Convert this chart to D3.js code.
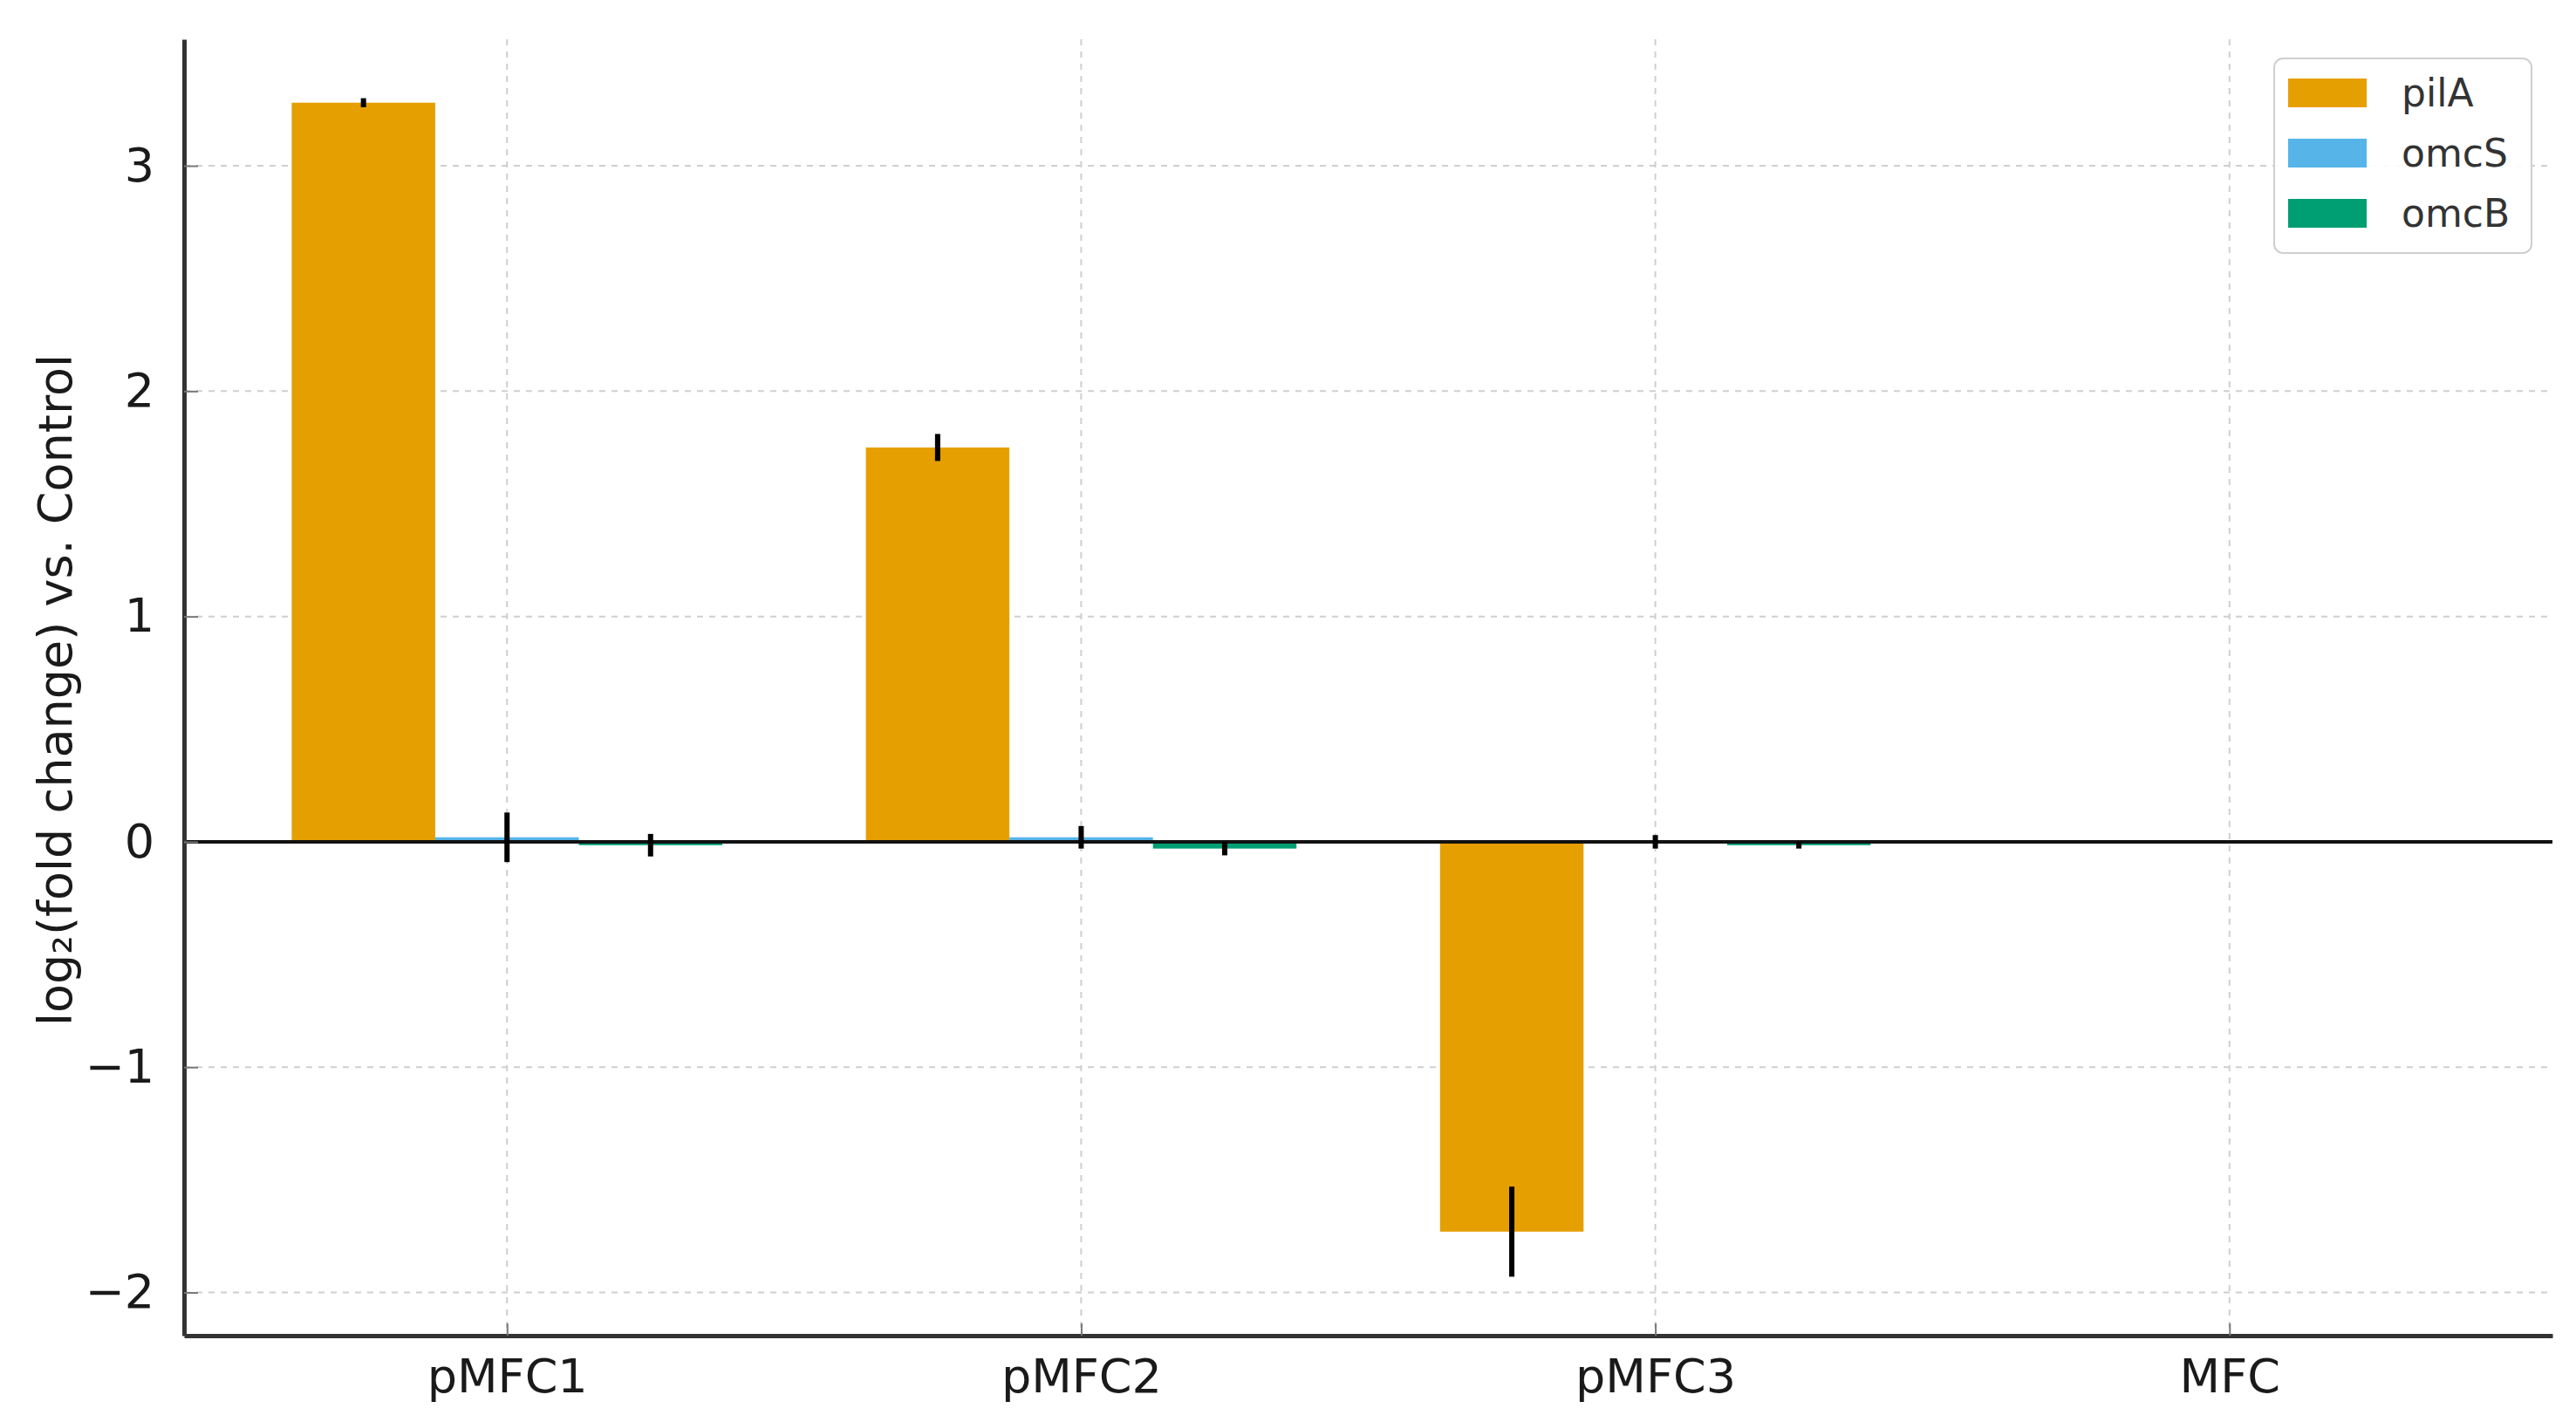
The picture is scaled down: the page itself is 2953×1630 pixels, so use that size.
<!DOCTYPE html>
<html>
<head>
<meta charset="utf-8">
<script src="https://cdn.jsdelivr.net/npm/d3@7"></script>
<style>
  body { margin: 0; background: #fff; }
  text { font-family: "DejaVu Sans", sans-serif; }
</style>
</head>
<body>
<div id="chart"></div>
<script>
// categories and genes
const conditions = ["pMFC1", "pMFC2", "pMFC3", "MFC"];
const genes = ["pilA", "omcS", "omcB"];
const geneColors = ["#E69F00", "#56B4E9", "#009E73"];

// log2 fold change per gene (one value per condition)
const pilA = [3.28, 1.75, -1.73, 0];
const omcS = [0.02, 0.02, 0.0, 0];
const omcB = [-0.015, -0.03, -0.015, 0];
// error (+/-) per gene
const pilAErr = [0.02, 0.06, 0.2, 0];
const omcSErr = [0.11, 0.05, 0.03, 0];
const omcBErr = [0.05, 0.03, 0.015, 0];

const yTicks = [-2, -1, 0, 1, 2, 3];

const values = [pilA, omcS, omcB];
const errors = [pilAErr, omcSErr, omcBErr];

const width = 2953, height = 1630;
const margin = {left: 211, right: 27, top: 45, bottom: 99};
const barW = 0.25;

let svg = d3.select("#chart").append("svg")
    .attr("width", width)
    .attr("height", height);

// x: numeric positions like matplotlib (category index), offsets -0.25 / 0 / +0.25
const xMin = -1.5 * barW, xMax = conditions.length - 1 + 1.5 * barW;
const xPad = (xMax - xMin) * 0.05;
const x = d3.scaleLinear()
    .domain([xMin - xPad, xMax + xPad])
    .range([margin.left, width - margin.right]);

// y domain from data + error, padded 5%
let lo = 0, hi = 0;
values.forEach((s, i) => s.forEach((v, j) => {
    lo = Math.min(lo, v - errors[i][j]);
    hi = Math.max(hi, v + errors[i][j]);
}));
const yPad = (hi - lo) * 0.05;
const y = d3.scaleLinear()
    .domain([lo - yPad, hi + yPad])
    .range([height - margin.bottom, margin.top]);

// grid
const grid = svg.append("g");
grid.selectAll("line.hg").data(yTicks).enter().append("line")
    .attr("x1", margin.left).attr("x2", width - margin.right)
    .attr("y1", d => y(d)).attr("y2", d => y(d))
    .attr("stroke", "#cfcfcf").attr("stroke-width", 2)
    .attr("stroke-dasharray", "7,7");
grid.selectAll("line.vg").data(conditions).enter().append("line")
    .attr("x1", (d, i) => x(i)).attr("x2", (d, i) => x(i))
    .attr("y1", margin.top).attr("y2", height - margin.bottom)
    .attr("stroke", "#cfcfcf").attr("stroke-width", 2)
    .attr("stroke-dasharray", "7,7");

// bars
genes.forEach((g, gi) => {
    const off = (gi - 1) * barW;
    svg.append("g").selectAll("rect").data(values[gi]).enter().append("rect")
        .attr("x", (d, i) => x(i + off - barW / 2))
        .attr("width", x(barW) - x(0))
        .attr("y", d => y(Math.max(0, d)))
        .attr("height", d => Math.abs(y(d) - y(0)))
        .attr("fill", geneColors[gi]);
});

// zero line
svg.append("line")
    .attr("x1", margin.left).attr("x2", width - margin.right)
    .attr("y1", y(0)).attr("y2", y(0))
    .attr("stroke", "#111").attr("stroke-width", 4);

// error bars
genes.forEach((g, gi) => {
    const off = (gi - 1) * barW;
    svg.append("g").selectAll("line").data(values[gi]).enter()
        .filter((d, i) => errors[gi][i] > 0)
        .append("line")
        .attr("x1", (d, i) => x(i + off)).attr("x2", (d, i) => x(i + off))
        .attr("y1", (d, i) => y(d - errors[gi][i]))
        .attr("y2", (d, i) => y(d + errors[gi][i]))
        .attr("stroke", "#000").attr("stroke-width", 6);
});

// axes
const xAxis = d3.axisBottom(x)
    .tickValues(d3.range(conditions.length))
    .tickFormat(i => conditions[i])
    .tickSizeInner(-14).tickSizeOuter(0).tickPadding(27);
const gx = svg.append("g")
    .attr("transform", `translate(0,${height - margin.bottom})`)
    .call(xAxis);
gx.select(".domain").attr("stroke", "#333").attr("stroke-width", 5);
gx.selectAll(".tick line").attr("stroke", "#777").attr("stroke-width", 2);
gx.selectAll(".tick text").attr("font-size", 54).attr("fill", "#1a1a1a")
    .attr("font-family", "DejaVu Sans");

const yAxis = d3.axisLeft(y)
    .tickValues(yTicks)
    .tickFormat(d => d < 0 ? "\u2212" + Math.abs(d) : d)
    .tickSizeInner(-16).tickSizeOuter(0).tickPadding(34);
const gy = svg.append("g")
    .attr("transform", `translate(${margin.left},0)`)
    .call(yAxis);
gy.select(".domain").attr("stroke", "#333").attr("stroke-width", 5);
gy.selectAll(".tick line").attr("stroke", "#777").attr("stroke-width", 2);
gy.selectAll(".tick text").attr("font-size", 54).attr("fill", "#1a1a1a")
    .attr("font-family", "DejaVu Sans");

// y label
svg.append("text")
    .attr("transform", `translate(82,${(margin.top + height - margin.bottom) / 2 + 3}) rotate(-90)`)
    .attr("text-anchor", "middle")
    .attr("font-size", 54).attr("fill", "#1a1a1a")
    .text("log\u2082(fold change) vs. Control");

// legend
const leg = svg.append("g").attr("transform", "translate(2607,67)");
leg.append("rect")
    .attr("width", 295).attr("height", 223)
    .attr("rx", 10).attr("ry", 10)
    .attr("fill", "#fff").attr("fill-opacity", 0.9)
    .attr("stroke", "#cfcfcf").attr("stroke-width", 2);
genes.forEach((g, gi) => {
    leg.append("rect")
        .attr("x", 16).attr("y", 23 + gi * 69)
        .attr("width", 90).attr("height", 33)
        .attr("fill", geneColors[gi]);
    leg.append("text")
        .attr("x", 146).attr("y", 55 + gi * 69)
        .attr("font-size", 44).attr("fill", "#333")
        .text(g);
});
</script>
</body>
</html>
